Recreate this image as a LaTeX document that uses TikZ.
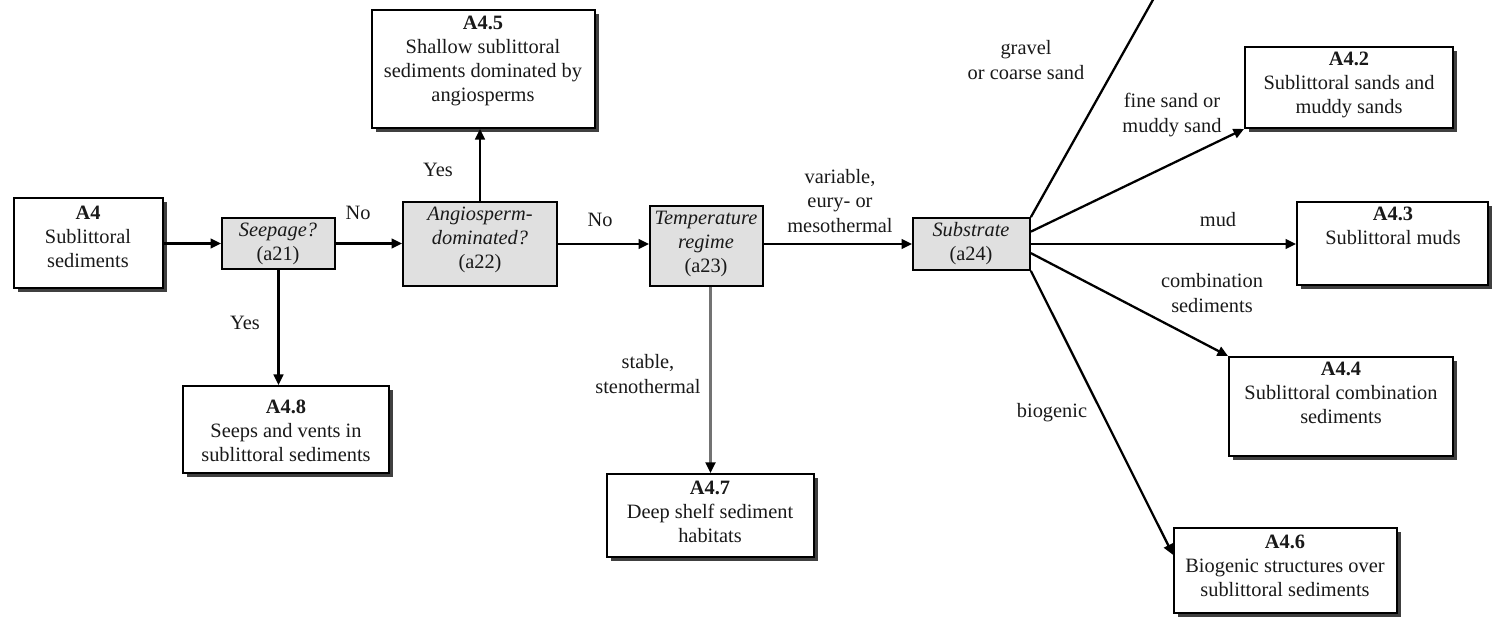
\documentclass[tikz,border=0pt]{standalone}
\usepackage{fontspec}
\setmainfont{Liberation Serif}
\usetikzlibrary{arrows.meta,shadows,fit,calc}
\begin{document}
\begin{tikzpicture}[x=0.02cm,y=-0.02cm,
  wbox/.style={draw=black, line width=1.1pt, fill=white, inner sep=0pt,
    general shadow={fill=black!75, shadow xshift=2.2pt, shadow yshift=-2.2pt}},
  gbox/.style={draw=black, line width=1pt, fill=black!12, inner sep=0pt},
  txt/.style={align=center, font=\fontsize{11.6}{13.7}\selectfont, text=black!90, inner sep=0pt},
  arr/.style={line width=1.3pt, -{Triangle[length=6pt,width=5.5pt]}},
]
\useasboundingbox (0,0) rectangle (1492,618);

% boxes
\node[wbox, fit={(14,198) (163,288)}] (a4) {};
\node[gbox, fit={(222,218) (335,269)}] (seep) {};
\node[gbox, fit={(403,202) (557,286)}] (ang) {};
\node[gbox, fit={(650,206) (763,286)}] (temp) {};
\node[gbox, fit={(913,218) (1030,270)}] (sub) {};
\node[wbox, fit={(372,10) (595,128)}] (a45) {};
\node[wbox, fit={(183,386) (389,473)}] (a48) {};
\node[wbox, fit={(607,474) (814,557)}] (a47) {};
\node[wbox, fit={(1245,47) (1453,128)}] (a42) {};
\node[wbox, fit={(1297,202) (1488,285)}] (a43) {};
\node[wbox, fit={(1229,357) (1453,456)}] (a44) {};
\node[wbox, fit={(1174,528) (1397,613)}] (a46) {};

% box texts
\node[txt] (ta4) at (88,237) {\textbf{A4}\\Sublittoral\\sediments};
\node[txt] (tseep) at (278,244) {\textit{Seepage?}\\(a21)};
\node[txt] (tang) at (480,240) {\textit{Angiosperm-}\\\textit{dominated?}\\(a22)};
\node[txt] (ttemp) at (706,244) {\textit{Temperature}\\\textit{regime}\\(a23)};
\node[txt] (tsub) at (971,244) {\textit{Substrate}\\(a24)};
\node[txt] (ta45) at (483,61) {\textbf{A4.5}\\Shallow sublittoral\\sediments dominated by\\angiosperms};
\node[txt] (ta48) at (286,431) {\textbf{A4.8}\\Seeps and vents in\\sublittoral sediments};
\node[txt] (ta47) at (710,512) {\textbf{A4.7}\\Deep shelf sediment\\habitats};
\node[txt] (ta42) at (1349,85) {\textbf{A4.2}\\Sublittoral sands and\\muddy sands};
\node[txt] (ta43) at (1393,226) {\textbf{A4.3}\\Sublittoral muds};
\node[txt] (ta44) at (1341,393) {\textbf{A4.4}\\Sublittoral combination\\sediments};
\node[txt] (ta46) at (1285,566) {\textbf{A4.6}\\Biogenic structures over\\sublittoral sediments};

% connectors
\draw[arr] (seep.west -| a4.east) -- (seep.west);
\draw[arr] (seep.east) -- (seep.east -| ang.west);
\draw[arr] (ang.east) -- (ang.east -| temp.west);
\draw[arr] (sub.west -| temp.east) -- (sub.west);
\draw[arr] (seep.south) -- (seep.south |- a48.north);
\draw[arr] (ang.north) -- (ang.north |- a45.south);
\draw[line width=1.5pt, draw=black!55, -{Triangle[length=6pt,width=5.5pt,color=black]}] (a47.north |- temp.south) -- (a47.north);

\coordinate (gtop) at (1154,-2);
\draw[line width=1.3pt] (sub.north east) -- (gtop);
\draw[arr] ($(sub.north east)!0.27!(sub.south east)$) -- (a42.south west);
\draw[arr] (sub.east) -- (a43.west |- sub.east);
\draw[arr] ($(sub.north east)!0.67!(sub.south east)$) -- (a44.north west);
\draw[arr] (sub.south east) -- ($(a46.north west)!0.32!(a46.south west)$);

% labels
\node[txt] (lno1) at (358,213) {No};
\node[txt] (lyes1) at (245,323) {Yes};
\node[txt] (lyes2) at (438,170) {Yes};
\node[txt] (lno2) at (600,220) {No};
\node[txt] (lstab) at (648,374) {stable,\\stenothermal};
\node[txt] (lvar) at (840,201) {variable,\\eury- or\\mesothermal};
\node[txt] (lgrav) at (1026,60) {gravel\\or coarse sand};
\node[txt] (lfine) at (1172,115) {fine sand or\\muddy sand};
\node[txt] (lmud) at (1218,220) {mud};
\node[txt] (lcomb) at (1212,293) {combination\\sediments};
\node[txt] (lbio) at (1052,413) {biogenic};
\end{tikzpicture}
\end{document}
